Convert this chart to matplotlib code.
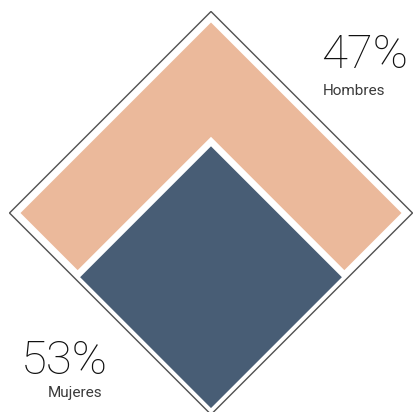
import numpy as np
import matplotlib
matplotlib.use('Agg')
import matplotlib.pyplot as plt
from matplotlib.patches import Polygon

# datos
categorias = ['Hombres', 'Mujeres']
porcentajes = [47, 53]
colores = ['#EBB99B', '#485D75']

# layout (pixel coords, diamond frame)
cx, cy = 211.0, 213.0
R_out = 201.5      # outline half-diagonal
R = 190.5          # filled square half-diagonal
k_corte = 0.70     # where the L of the first group is cut
k_bloque = 0.675   # side of the bottom block
k_base = -0.012


def to_xy(pts, r=R):
    # a -> toward left vertex, b -> toward right vertex, (0,0) = bottom vertex
    pts = np.asarray(pts, dtype=float)
    a, b = pts[:, 0], pts[:, 1]
    x = cx - a * r + b * r
    y = cy + r - (a + b) * r
    return np.column_stack([x, y])


fig = plt.figure(figsize=(4.14, 4.12), dpi=100)
ax = fig.add_axes([0, 0, 1, 1])
ax.set_xlim(0, 414)
ax.set_ylim(412, 0)
ax.axis('off')

# outline
marco = to_xy([(0, 0), (1, 0), (1, 1), (0, 1)], r=R_out)
ax.add_patch(Polygon(marco, closed=True, fill=False, edgecolor='#505050', lw=1.0))

# chevron (Hombres)
forma_h = to_xy([(1, 0), (1, 1), (0, 1), (0, k_corte), (k_corte, k_corte), (k_corte, 0)])
ax.add_patch(Polygon(forma_h, closed=True, facecolor=colores[0], edgecolor='none'))

# bloque (Mujeres)
forma_m = to_xy([(k_base, k_base), (k_bloque, k_base), (k_bloque, k_bloque), (k_base, k_bloque)])
ax.add_patch(Polygon(forma_m, closed=True, facecolor=colores[1], edgecolor='none'))

fuente = ['Roboto', 'DejaVu Sans']
etiqueta = ['Roboto', 'DejaVu Sans']
ax.text(321, 68, '%d%%' % porcentajes[0], fontsize=34, fontweight='light',
        family=fuente, color='#111111', va='baseline', ha='left')
ax.text(323, 95, categorias[0], fontsize=11, family=etiqueta,
        color='#3a3a3a', va='baseline', ha='left')
ax.text(21, 374, '%d%%' % porcentajes[1], fontsize=34, fontweight='light',
        family=fuente, color='#111111', va='baseline', ha='left')
ax.text(48, 397, categorias[1], fontsize=11, family=etiqueta,
        color='#3a3a3a', va='baseline', ha='left')

fig.savefig('out.png', dpi=100, facecolor='white')
